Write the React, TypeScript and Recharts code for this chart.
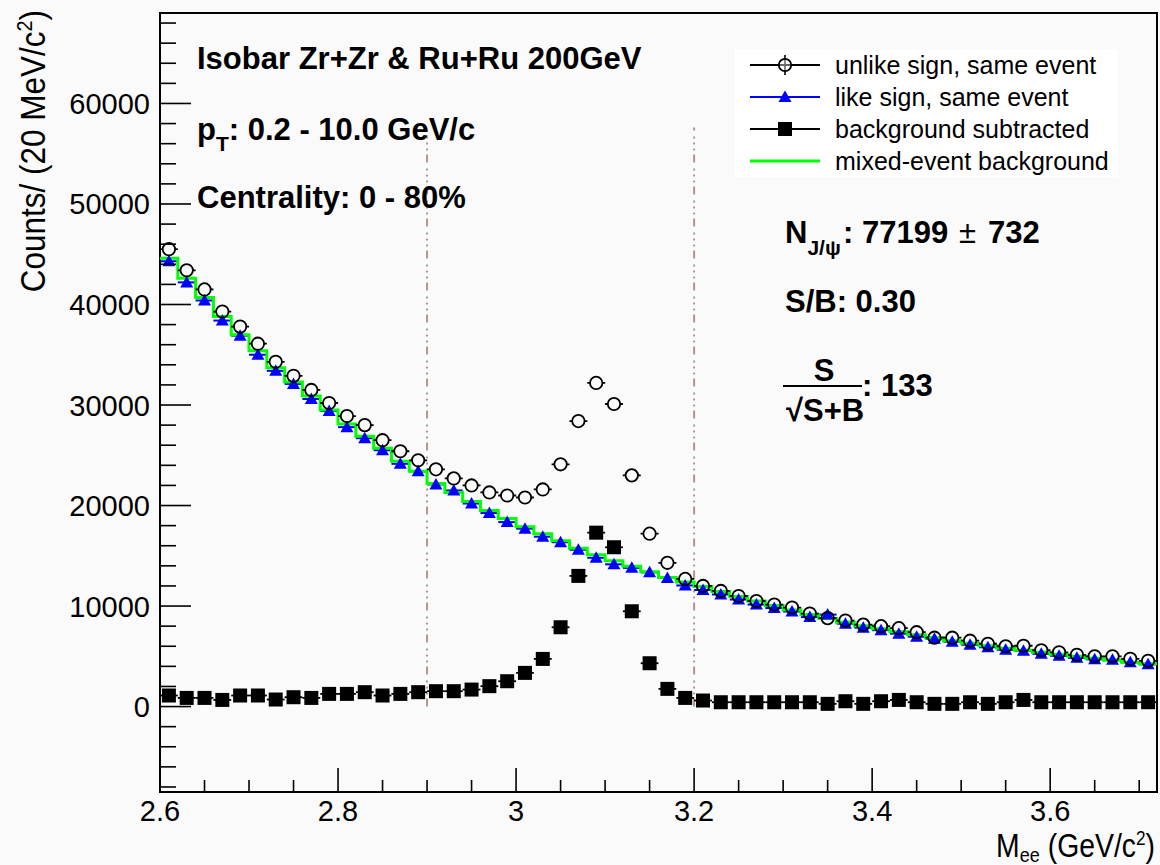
import React from "react";
import {
  ComposedChart, XAxis, YAxis, Scatter, Line, ErrorBar,
  ReferenceLine, ReferenceArea,
} from "recharts";

const FONT = '"Liberation Sans", Arial, Helvetica, sans-serif';
const BG = "#fafafa";

// 20 MeV bins from 2.60 to 3.72 GeV/c^2
const BIN_LOW = 2.6;
const BIN_WIDTH = 0.02;

const UNLIKE_SIGN = [
  45500, 43400, 41500, 39300, 37800, 36100, 34300, 32900, 31500, 30200,
  28900, 28000, 26500, 25400, 24500, 23600, 22700, 22000, 21300, 21000,
  20800, 21600, 24100, 28400, 32200, 30100, 23000, 17200, 14300, 12700,
  12000, 11500, 11000, 10500, 10150, 9850, 9250, 8800, 8550, 8150,
  8000, 7800, 7400, 6850, 6850, 6550, 6250, 6000, 6050, 5600,
  5400, 5150, 5000, 5000, 4750, 4550,
];

const LIKE_SIGN = [
  44300, 42200, 40400, 38400, 36900, 35000, 33400, 32100, 30600, 29400,
  27800, 26700, 25500, 24150, 23400, 22100, 21500, 20200, 19250, 18350,
  17700, 16900, 16350, 15600, 14800, 14150, 13800, 13350, 12800, 12050,
  11600, 11150, 10650, 10150, 9800, 9450, 8900, 9150, 8250, 7850,
  7600, 7250, 6950, 6750, 6450, 6150, 5900, 5650, 5550, 5250,
  5050, 4850, 4700, 4650, 4400, 4200,
];

const BKG_SUBTRACTED = [
  1100, 860, 860, 660, 1100, 1100, 700, 930, 860, 1260,
  1260, 1430, 1100, 1260, 1430, 1530, 1530, 1690, 2030, 2520,
  3350, 4740, 7890, 13000, 17300, 15850, 9480, 4310, 1760, 860,
  600, 430, 430, 430, 430, 430, 430, 270, 530, 270,
  530, 660, 430, 270, 270, 430, 270, 430, 660, 430,
  430, 430, 430, 430, 430, 430,
];

const MIXED_EVENT = [
  44600, 42600, 40700, 38800, 37000, 35400, 33700, 32300, 30900, 29500,
  28100, 26900, 25700, 24400, 23400, 22200, 21300, 20400, 19500, 18700,
  17900, 17200, 16500, 15750, 15100, 14500, 13950, 13400, 12850, 12400,
  11950, 11450, 10950, 10500, 10050, 9600, 9150, 8750, 8400, 8050,
  7750, 7450, 7150, 6850, 6550, 6300, 6050, 5800, 5600, 5400,
  5200, 5000, 4800, 4600, 4420, 4250,
];

// mass window lines (x, top of line)
const WINDOW_LINES = [
  { x: 2.9, top: 56800 },
  { x: 3.2, top: 57600 },
];

const X_DOMAIN: [number, number] = [2.6, 3.72];
const Y_DOMAIN: [number, number] = [-8500, 69000];
const X_TICKS = Array.from({ length: 23 }, (_, i) => +(2.6 + 0.05 * i).toFixed(2));
const Y_TICKS = Array.from({ length: 39 }, (_, i) => -8000 + 2000 * i);

const binCenter = (i: number) => +(BIN_LOW + BIN_WIDTH * (i + 0.5)).toFixed(3);
const toPoints = (vals: number[]) =>
  vals.map((y, i) => ({ x: binCenter(i), y, ex: BIN_WIDTH / 2 }));

const unlikePts = toPoints(UNLIKE_SIGN);
const likePts = toPoints(LIKE_SIGN);
const subPts = toPoints(BKG_SUBTRACTED);
// histogram outline: value at each low edge, closed at the last high edge
const mixedSteps = [
  ...MIXED_EVENT.map((y, i) => ({ x: +(BIN_LOW + BIN_WIDTH * i).toFixed(3), y })),
  { x: +(BIN_LOW + BIN_WIDTH * MIXED_EVENT.length).toFixed(3), y: MIXED_EVENT[MIXED_EVENT.length - 1] },
];

// eslint-disable-next-line @typescript-eslint/no-explicit-any
const XTick = (props: any) => {
  const { x, y, payload } = props;
  const v = payload.value as number;
  const major = Math.round(v * 100) % 20 === 0;
  return (
    <g>
      <line x1={x} x2={x} y1={y} y2={y - (major ? 24 : 12)} stroke="#000" strokeWidth={1.6} />
      {major && (
        <text x={x} y={y + 29} textAnchor="middle" fontSize={29} fontFamily={FONT} fill="#000">
          {String(Number(v.toFixed(2)))}
        </text>
      )}
    </g>
  );
};

// eslint-disable-next-line @typescript-eslint/no-explicit-any
const YTick = (props: any) => {
  const { x, y, payload } = props;
  const v = payload.value as number;
  const major = v % 10000 === 0;
  return (
    <g>
      <line x1={x} x2={x + (major ? 31 : 16)} y1={y} y2={y} stroke="#000" strokeWidth={1.6} />
      {major && (
        <text x={x - 10} y={y + 10.5} textAnchor="end" fontSize={29} fontFamily={FONT} fill="#000">
          {v}
        </text>
      )}
    </g>
  );
};

// eslint-disable-next-line @typescript-eslint/no-explicit-any
const OpenCircle = (p: any) => (
  <circle cx={p.cx} cy={p.cy} r={6.2} fill="none" stroke="#000" strokeWidth={1.8} />
);
// eslint-disable-next-line @typescript-eslint/no-explicit-any
const BlueTriangle = (p: any) => (
  <polygon
    points={`${p.cx},${p.cy - 6.5} ${p.cx - 6.5},${p.cy + 5} ${p.cx + 6.5},${p.cy + 5}`}
    fill="#0000ff"
  />
);
// eslint-disable-next-line @typescript-eslint/no-explicit-any
const FilledSquare = (p: any) => (
  <rect x={p.cx - 7} y={p.cy - 7} width={14} height={14} fill="#000" />
);

const LEGEND_ROWS = [
  { label: "unlike sign, same event", kind: "circle" },
  { label: "like sign, same event", kind: "triangle" },
  { label: "background subtracted", kind: "square" },
  { label: "mixed-event background", kind: "line" },
];

function LegendMarker({ kind, y }: { kind: string; y: number }) {
  const cx = 785;
  if (kind === "circle")
    return (
      <g>
        <line x1={750} x2={820} y1={y} y2={y} stroke="#000" strokeWidth={2} />
        <line x1={cx} x2={cx} y1={y - 10} y2={y + 10} stroke="#000" strokeWidth={1.6} />
        <circle cx={cx} cy={y} r={6.2} fill="#fff" fillOpacity={0.4} stroke="#000" strokeWidth={1.8} />
      </g>
    );
  if (kind === "triangle")
    return (
      <g>
        <line x1={750} x2={820} y1={y} y2={y} stroke="#0000ff" strokeWidth={2} />
        <polygon points={`${cx},${y - 6.5} ${cx - 6.5},${y + 5} ${cx + 6.5},${y + 5}`} fill="#0000ff" />
      </g>
    );
  if (kind === "square")
    return (
      <g>
        <line x1={750} x2={820} y1={y} y2={y} stroke="#000" strokeWidth={2} />
        <rect x={cx - 7} y={y - 7} width={14} height={14} fill="#000" />
      </g>
    );
  return <line x1={750} x2={820} y1={y} y2={y} stroke="#00ff00" strokeWidth={3} />;
}

export default function App() {
  const bold = { fontFamily: FONT, fontWeight: 700, fontSize: 31, fill: "#000" } as const;
  return (
    <div style={{ position: "absolute", left: 0, top: 0, width: 1160, height: 865, background: BG, overflow: "hidden" }}>
      <ComposedChart width={1160} height={865} margin={{ top: 13, right: 3, bottom: 0, left: 0 }}>
        <XAxis
          type="number" dataKey="x" domain={X_DOMAIN} ticks={X_TICKS} interval={0}
          tick={<XTick />} tickLine={false} axisLine={false} tickSize={0} tickMargin={0}
          height={73} allowDataOverflow
        />
        <YAxis
          type="number" dataKey="y" domain={Y_DOMAIN} ticks={Y_TICKS} interval={0}
          tick={<YTick />} tickLine={false} axisLine={false} tickSize={0} tickMargin={0}
          width={160} allowDataOverflow
        />
        <ReferenceArea
          x1={X_DOMAIN[0]} x2={X_DOMAIN[1]} y1={Y_DOMAIN[0]} y2={Y_DOMAIN[1]}
          fill="none" fillOpacity={0} stroke="#000" strokeWidth={2} strokeOpacity={1}
        />
        {WINDOW_LINES.map((w) => (
          <ReferenceLine
            key={w.x}
            segment={[{ x: w.x, y: 0 }, { x: w.x, y: w.top }]}
            stroke="#b3968a" strokeWidth={2} strokeDasharray="8 4 2 4 2 4 2 6"
          />
        ))}
        <Scatter data={likePts} shape={BlueTriangle} isAnimationActive={false}>
          <ErrorBar dataKey="ex" direction="x" width={0} stroke="#0000ff" strokeWidth={2} />
        </Scatter>
        <Line
          data={mixedSteps} dataKey="y" type="stepAfter" stroke="#00ff00" strokeWidth={3}
          dot={false} activeDot={false} isAnimationActive={false}
        />
        <Scatter data={unlikePts} shape={OpenCircle} isAnimationActive={false}>
          <ErrorBar
            dataKey="ex" direction="x" width={0} stroke="#000" strokeWidth={1.8}
            strokeDasharray="3 11.8 3"
          />
        </Scatter>
        <Scatter data={subPts} shape={FilledSquare} isAnimationActive={false}>
          <ErrorBar dataKey="ex" direction="x" width={0} stroke="#000" strokeWidth={1.8} />
        </Scatter>
      </ComposedChart>

      <svg width={1160} height={865} style={{ position: "absolute", left: 0, top: 0, pointerEvents: "none" }}>
        {/* axis titles, narrowed like the original */}
        <g transform="translate(45,10) rotate(-90) scale(0.9,1)">
          <text x={0} y={0} textAnchor="end" fontFamily={FONT} fontSize={35} fill="#000">
            Counts/ (20 MeV/c<tspan dy={-13} fontSize={22}>2</tspan><tspan dy={13}>)</tspan>
          </text>
        </g>
        <g transform="translate(1155,857) scale(0.86,1)">
          <text x={0} y={0} textAnchor="end" fontFamily={FONT} fontSize={33} fill="#000">
            M<tspan dy={5} fontSize={21}>ee</tspan><tspan dy={-5}> (GeV/c</tspan>
            <tspan dy={-12} fontSize={20}>2</tspan><tspan dy={12}>)</tspan>
          </text>
        </g>

        {/* run / cut labels */}
        <text x={197} y={69} {...bold}>Isobar Zr+Zr &amp; Ru+Ru 200GeV</text>
        <text x={197} y={140} {...bold}>
          p<tspan dy={11} fontSize={21}>T</tspan><tspan dy={-11}>: 0.2 - 10.0 GeV/c</tspan>
        </text>
        <text x={197} y={208} {...bold}>Centrality: 0 - 80%</text>

        {/* signal numbers */}
        <text x={785} y={243} {...bold}>
          N<tspan dy={12} fontSize={21}>J/ψ</tspan>
        </text>
        <text x={843} y={243} {...bold}>: 77199</text>
        <text x={959} y={243} fontFamily={FONT} fontSize={31} fill="#000">±</text>
        <text x={988} y={243} {...bold}>732</text>
        <text x={785} y={312} {...bold}>S/B: 0.30</text>
        <text x={824} y={381} textAnchor="middle" {...bold}>S</text>
        <line x1={783} x2={862} y1={386} y2={386} stroke="#000" strokeWidth={2.2} />
        <text x={786} y={421} {...bold}>√S+B</text>
        <text x={862} y={396} {...bold}>: 133</text>

        {/* legend */}
        <rect x={735} y={49} width={383} height={128} fill="#fff" />
        {LEGEND_ROWS.map((r, i) => {
          const y = 65 + i * 32;
          return (
            <g key={r.label}>
              <LegendMarker kind={r.kind} y={y} />
              <text x={835} y={y + 9} fontFamily={FONT} fontSize={25} fill="#000">{r.label}</text>
            </g>
          );
        })}
      </svg>
    </div>
  );
}
